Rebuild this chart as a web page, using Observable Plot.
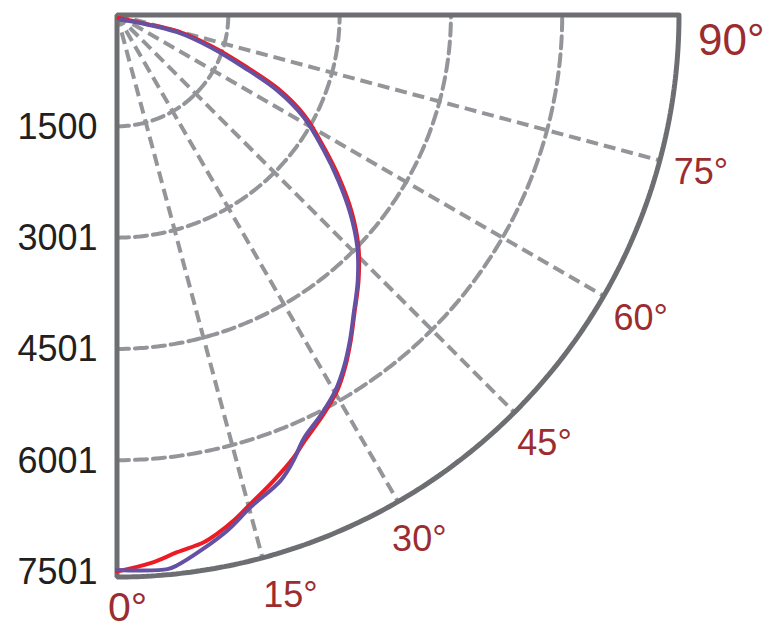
<!DOCTYPE html>
<html>
<head>
<meta charset="utf-8">
<script src="https://cdn.jsdelivr.net/npm/d3@7"></script>
<script src="https://cdn.jsdelivr.net/npm/@observablehq/plot@0.6"></script>
<style>
  html, body { margin: 0; padding: 0; background: #fff; }
  #chart { width: 765px; height: 630px; }
</style>
</head>
<body>
<div id="chart"></div>
<script>
// ---- data ----
const tickValues = [1500, 3001, 4501, 6001, 7501];
const tickLabels = ["1500", "3001", "4501", "6001", "7501"];
const ringValues = [1500, 3001, 4501, 6001];
const spokeAngles = [15, 30, 45, 60, 75];
const angleLabels = ["15°", "30°", "45°", "60°", "75°"];
const rMax = 7501;    // radial axis maximum
const rOuter = 7575;  // outer frame radius

// red series: angle (deg) and intensity, in path order
const redAngles = [27, 72.5, 75.0, 71.8, 68.3, 65.4, 61.8, 57.2, 53.6, 50.0, 46.3, 42.4, 38.5, 35.7, 33.0, 30.5, 27.5, 23.6, 21.8, 18.6, 15.3, 13.0, 10.9, 9.35, 6.4, 3.5, 0];
const redValues = [45, 377, 840, 1330, 1850, 2390, 2870, 3330, 3730, 4130, 4500, 4830, 5140, 5400, 5650, 5860, 6050, 6285, 6419, 6621, 6830, 6993, 7122, 7202, 7286, 7403, 7501];

// purple series
const purpleAngles = [36, 71.8, 74.1, 71.0, 67.6, 64.8, 61.3, 56.8, 53.2, 49.6, 46.0, 42.2, 38.4, 35.6, 32.8, 30.2, 27.2, 23.8, 21.6, 19.4, 15.2, 12.1, 8.9, 6.2, 5.2, 2.4, 0];
const purpleValues = [80, 380, 844, 1333, 1848, 2387, 2870, 3332, 3727, 4131, 4503, 4831, 5136, 5394, 5646, 5855, 6041, 6239, 6460, 6650, 6874, 7105, 7305, 7464, 7500, 7495, 7480];

// ---- helpers ----
const rad = Math.PI / 180;
const px = (a, r) => r * Math.sin(a * rad);
const py = (a, r) => r * Math.cos(a * rad);
const series = (angles, values) => angles.map((a, i) => ({a, r: values[i]}));

const red = series(redAngles, redValues);
const purple = series(purpleAngles, purpleValues);

const arcSteps = d3.range(0, 90.001, 0.5);
const ringPts = ringValues.flatMap(r => arcSteps.map(a => ({a, r})));
const framePts = [{a: 90, r: rOuter}, {a: 0, r: 0}, ...arcSteps.map(a => ({a, r: rOuter}))];

const font = "'Liberation Sans', Arial, Helvetica, sans-serif";
const labelColor = "#9b2d30";
const gridColor = "#939598";
const labelR = 8150;

const chart = Plot.plot({
  width: 765,
  height: 630,
  style: {fontFamily: font, background: "#fff", overflow: "visible"},
  x: {axis: null, domain: [0, rMax], range: [116.5, 673]},
  y: {axis: null, domain: [0, rMax], range: [14.5, 571]},
  marks: [
    // dashed rings
    Plot.line(ringPts, {
      x: d => px(d.a, d.r), y: d => py(d.a, d.r), z: "r",
      stroke: gridColor, strokeWidth: 4, strokeDasharray: "12,6"
    }),
    // dashed spokes
    Plot.link(spokeAngles, {
      x1: () => 0, y1: () => 0,
      x2: a => px(a, rOuter), y2: a => py(a, rOuter),
      stroke: gridColor, strokeWidth: 4, strokeDasharray: "12,6"
    }),
    // frame
    Plot.line(framePts, {
      x: d => px(d.a, d.r), y: d => py(d.a, d.r),
      stroke: "#6d6e71", strokeWidth: 5, strokeLinejoin: "miter"
    }),
    // curves
    Plot.line(red, {
      x: d => px(d.a, d.r), y: d => py(d.a, d.r),
      stroke: "#ed1c24", strokeWidth: 4, curve: "catmull-rom"
    }),
    Plot.line(purple, {
      x: d => px(d.a, d.r), y: d => py(d.a, d.r),
      stroke: "#6650a2", strokeWidth: 4, curve: "catmull-rom"
    }),
    // radial tick labels
    Plot.text(tickValues, {
      x: () => 0, y: d => d, text: (d, i) => tickLabels[i],
      textAnchor: "end", dx: -19.5, dy: 1, fontSize: 36, fill: "#231f20"
    }),
    // angle labels
    Plot.text(spokeAngles.slice(1), {
      x: a => px(a, labelR), y: a => py(a, labelR),
      text: (a, i) => angleLabels[i + 1],
      fontSize: 36, fill: labelColor, dy: 1
    }),
    Plot.text(spokeAngles.slice(0, 1), {
      x: a => px(a, labelR), y: a => py(a, labelR),
      text: (a, i) => angleLabels[i],
      fontSize: 36, fill: labelColor, dx: 17, dy: -4
    }),
    Plot.text(["0°"], {
      x: () => 0, y: () => rOuter, text: d => d,
      textAnchor: "start", dx: -9, dy: 31, fontSize: 41, fill: labelColor
    }),
    Plot.text(["90°"], {
      x: () => rOuter, y: () => 0, text: d => d,
      textAnchor: "start", dx: 19, dy: 26, fontSize: 44, fill: labelColor
    })
  ]
});
document.getElementById("chart").appendChild(chart);
</script>
</body>
</html>
